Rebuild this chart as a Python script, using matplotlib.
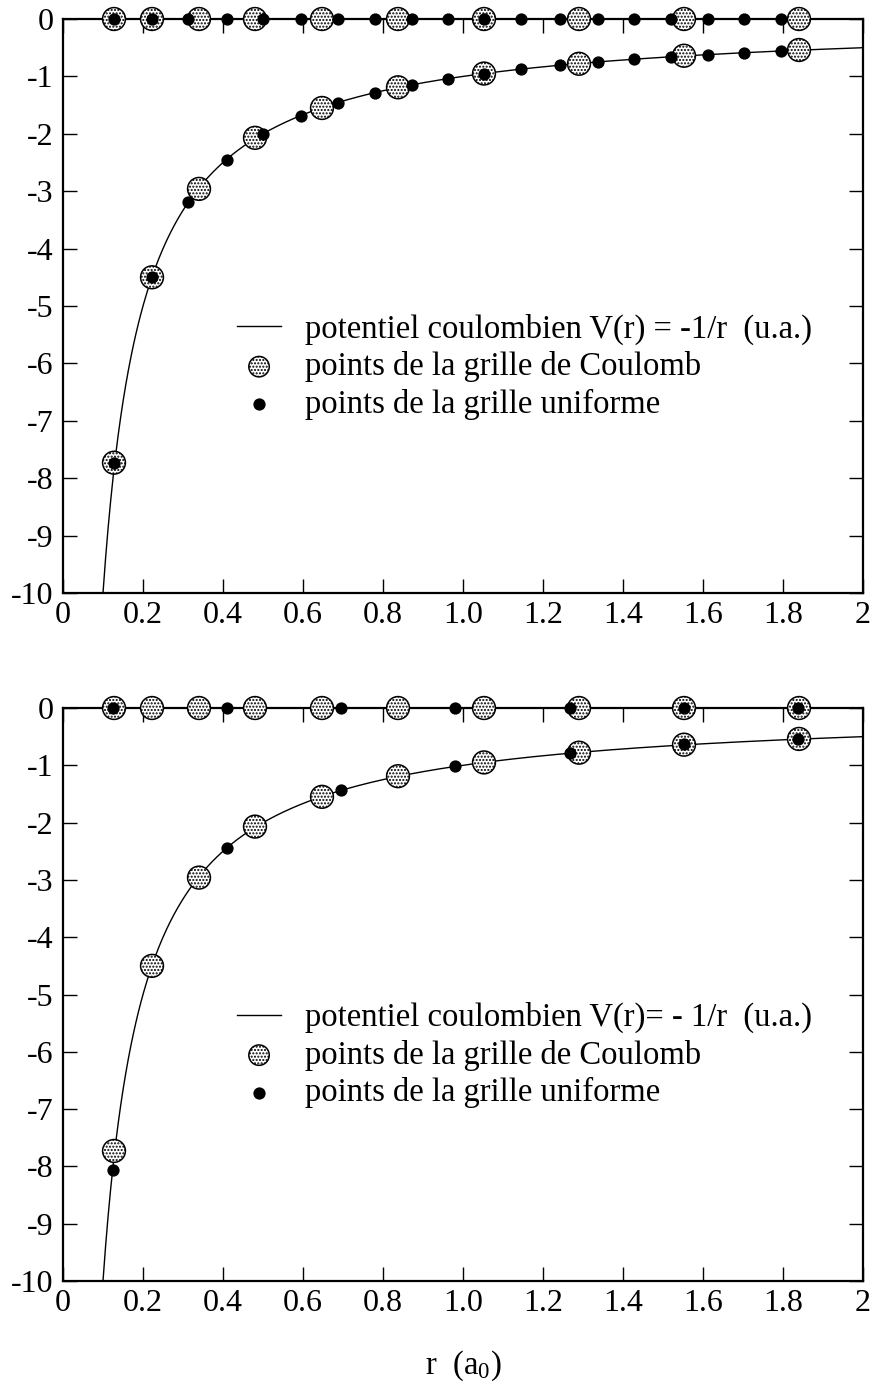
import numpy as np
import matplotlib
matplotlib.use("Agg")
import matplotlib.pyplot as plt
from matplotlib.lines import Line2D

plt.rcParams['font.family'] = ['Liberation Serif', 'DejaVu Serif']
plt.rcParams['mathtext.fontset'] = 'custom'
plt.rcParams['mathtext.rm'] = 'Liberation Serif'
plt.rcParams['mathtext.it'] = 'Liberation Serif:italic'
plt.rcParams['hatch.linewidth'] = 1.0

# ---- data ----
coulomb_r = [0.1275, 0.2225, 0.34, 0.48, 0.6475, 0.8375, 1.0525, 1.29, 1.5525, 1.84]
coulomb_v = [-7.73, -4.5, -2.96, -2.07, -1.55, -1.19, -0.95, -0.78, -0.64, -0.54]

uniform_top_r = [0.1275, 0.2225, 0.3125, 0.41, 0.50, 0.595, 0.6875, 0.78, 0.8725, 0.9625,
                 1.0525, 1.145, 1.2425, 1.3375, 1.4275, 1.52, 1.6125, 1.7025, 1.795]
uniform_top_v = [-7.73, -4.5, -3.19, -2.46, -2.0, -1.69, -1.46, -1.29, -1.15, -1.04,
                 -0.95, -0.87, -0.81, -0.75, -0.70, -0.66, -0.62, -0.59, -0.56]

uniform_bot_r = [0.125, 0.41, 0.695, 0.98, 1.2675, 1.5525, 1.8375]
uniform_bot_v = [-8.07, -2.45, -1.43, -1.01, -0.79, -0.63, -0.54]

xtick_vals = [0, 0.2, 0.4, 0.6, 0.8, 1.0, 1.2, 1.4, 1.6, 1.8, 2]
xtick_labels = ['0', '0.2', '0.4', '0.6', '0.8', '1.0', '1.2', '1.4', '1.6', '1.8', '2']
ytick_vals = [0, -1, -2, -3, -4, -5, -6, -7, -8, -9, -10]
ytick_labels = ['0', '-1', '-2', '-3', '-4', '-5', '-6', '-7', '-8', '-9', '-10']

legend_labels_top = ['potentiel coulombien V(r) = -1/r  (u.a.)',
                     'points de la grille de Coulomb',
                     'points de la grille uniforme']
legend_labels_bot = ['potentiel coulombien V(r)= - 1/r  (u.a.)',
                     'points de la grille de Coulomb',
                     'points de la grille uniforme']

r_curve = np.linspace(0.1, 2.0, 600)
v_curve = -1.0 / r_curve

FS_TICK = 23
FS_LEG = 23.5
fig = plt.figure(figsize=(8.78, 13.92), dpi=100)
W, H = 878, 1392


def px_axes(left, right, top, bottom):
    return [left / W, 1 - bottom / H, (right - left) / W, (bottom - top) / H]


ax_top = fig.add_axes(px_axes(63, 863, 19, 593))
ax_bot = fig.add_axes(px_axes(63, 863, 708, 1281))

C_S = 270
U_S = 78


def draw(ax, ur, uv, labels):
    ax.plot(r_curve, v_curve, color='black', lw=1.0, zorder=2, clip_on=True)
    # Coulomb grid points on the curve and on the r axis
    for yy in (coulomb_v, np.zeros(len(coulomb_r))):
        ax.scatter(coulomb_r, yy, s=C_S, facecolor='white', edgecolor='black',
                   linewidths=1.1, hatch='.....', zorder=4, clip_on=False)
    for yy in (uv, np.zeros(len(ur))):
        ax.scatter(ur, yy, s=U_S, color='black', linewidths=0, zorder=5, clip_on=False)
    ax.set_xlim(0, 2)
    ax.set_ylim(-10, 0)
    ax.set_xticks(xtick_vals)
    ax.set_xticklabels(xtick_labels)
    ax.set_yticks(ytick_vals)
    ax.set_yticklabels(ytick_labels)
    ax.tick_params(direction='in', length=10, width=1.0, top=True, right=True,
                   labelsize=FS_TICK, colors='black')
    ax.tick_params(axis='x', pad=6)
    ax.tick_params(axis='y', pad=7)
    for sp in ax.spines.values():
        sp.set_linewidth(1.6)
    ax.spines['top'].set_zorder(3)

    h_line = Line2D([], [], color='black', lw=1.0)
    h_c = ax.scatter([], [], s=C_S * 0.8, facecolor='white', edgecolor='black',
                     linewidths=1.1, hatch='.....')
    h_u = ax.scatter([], [], s=U_S, color='black', linewidths=0)
    ax.legend([h_line, h_c, h_u], labels, loc='upper left',
              bbox_to_anchor=(0.2175, 0.487), frameon=False, fontsize=FS_LEG,
              handlelength=1.35, handletextpad=0.74, labelspacing=0.2,
              borderpad=0, borderaxespad=0, scatterpoints=1)


draw(ax_top, uniform_top_r, uniform_top_v, legend_labels_top)
draw(ax_bot, uniform_bot_r, uniform_bot_v, legend_labels_bot)

fig.text(463 / W, 1 - 1366 / H, 'r  (a$_0$)', ha='center', va='center', fontsize=FS_LEG)

fig.savefig('out.png', dpi=100)
